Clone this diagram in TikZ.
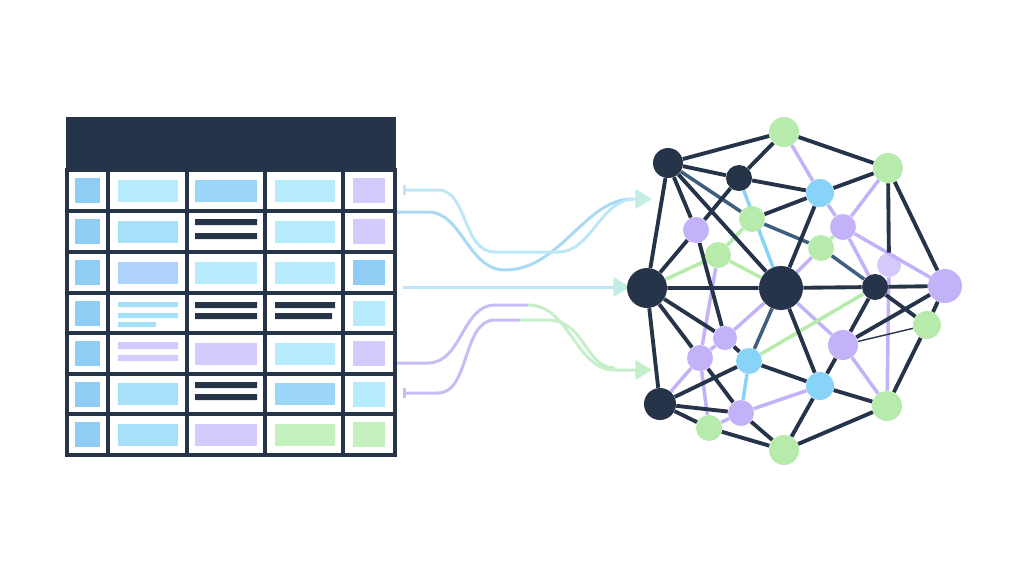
\documentclass[tikz,border=0pt]{standalone}
\usepackage{tikz}
\usetikzlibrary{arrows.meta,backgrounds}
\definecolor{navy}{HTML}{26344A}
\definecolor{skyA}{HTML}{8FCDF5}
\definecolor{cyanA}{HTML}{B5EBFB}
\definecolor{cyanB}{HTML}{A6E1F9}
\definecolor{blueB}{HTML}{9BD6F7}
\definecolor{periA}{HTML}{AFD2FB}
\definecolor{lavA}{HTML}{D4CAFB}
\definecolor{greenA}{HTML}{C4F2BF}
\definecolor{mint}{HTML}{B7EBAB}
\definecolor{lilac}{HTML}{C3B2F7}
\definecolor{sky}{HTML}{88D4F8}
\definecolor{steel}{HTML}{3F5F80}
\definecolor{flowA}{HTML}{BDE6F6}
\definecolor{flowB}{HTML}{A9DAF3}
\definecolor{flowP}{HTML}{C9BCF5}
\definecolor{flowG}{HTML}{C5EFC8}
\definecolor{tipC}{HTML}{C2EEE6}
\tikzset{
    grid/.style={draw=navy,line width=1.8pt},
    flow/.style={line width=1.7pt},
    tip/.style={-{Triangle[length=9.5pt,width=11pt,color=#1]}},
    bartip/.style={{Bar[width=6pt]}-{Triangle[length=9.5pt,width=11pt,color=#1]}},
    dnode/.style={circle,fill=navy,inner sep=0pt,minimum size=#1},
    gnode/.style={circle,fill=mint,inner sep=0pt,minimum size=#1},
    pnode/.style={circle,fill=lilac,inner sep=0pt,minimum size=#1},
    bnode/.style={circle,fill=sky,inner sep=0pt,minimum size=#1},
    dk/.style={draw=navy,line width=2.2pt},
    pl/.style={draw=lilac,line width=2pt},
    gl/.style={draw=mint,line width=2pt},
    bl/.style={draw=sky,line width=2pt},
    sl/.style={draw=steel,line width=2pt},
}
\begin{document}
\begin{tikzpicture}[x=0.02cm,y=-0.02cm]
    \useasboundingbox (0,0) rectangle (1024,576);

    % table
    \fill[navy] (66,117) rectangle (396,170);
    \foreach \x in {108,187,265,343} \draw[grid] (\x,170) -- (\x,455);
    \foreach \y in {211,252,293,333,374,414} \draw[grid] (67,\y) -- (395,\y);
    \draw[grid] (67,170) rectangle (395,455);
    % first column
    \foreach \y in {190.5,231.5,272.5,313,353.5,394,434.5}
        \fill[skyA] (75,\y-12.5) rectangle (100,\y+12.5);
    % row 1
    \fill[cyanA] (118,179.5) rectangle (178,201.5);
    \fill[blueB] (195,179.5) rectangle (257,201.5);
    \fill[cyanA] (275,179.5) rectangle (335,201.5);
    \fill[lavA] (353,178) rectangle (385,203);
    % row 2
    \fill[cyanB] (118,220.5) rectangle (178,242.5);
    \fill[navy] (195,219) rectangle (257,225) (195,233) rectangle (257,239);
    \fill[cyanA] (275,220.5) rectangle (335,242.5);
    \fill[lavA] (353,219) rectangle (385,244);
    % row 3
    \fill[periA] (118,261.5) rectangle (178,283.5);
    \fill[cyanA] (195,261.5) rectangle (257,283.5);
    \fill[cyanA] (275,261.5) rectangle (335,283.5);
    \fill[skyA] (353,260) rectangle (385,285);
    % row 4
    \fill[cyanB] (118,302) rectangle (178,307) (118,313) rectangle (178,318) (118,322) rectangle (156,327);
    \fill[navy] (195,302) rectangle (257,308) (195,313) rectangle (257,319);
    \fill[navy] (275,302) rectangle (335,308) (275,313) rectangle (332,319);
    \fill[cyanA] (353,300.5) rectangle (385,325.5);
    % row 5
    \fill[lavA] (118,342) rectangle (178,349) (118,355) rectangle (178,361);
    \fill[lavA] (195,342.5) rectangle (257,364.5);
    \fill[cyanA] (275,342.5) rectangle (335,364.5);
    \fill[lavA] (353,341) rectangle (385,366);
    % row 6
    \fill[cyanB] (118,383) rectangle (178,405);
    \fill[navy] (195,382) rectangle (257,388) (195,394) rectangle (257,400);
    \fill[blueB] (275,383) rectangle (335,405);
    \fill[cyanA] (353,381.5) rectangle (385,406.5);
    % row 7
    \fill[cyanB] (118,423.5) rectangle (178,445.5);
    \fill[lavA] (195,423.5) rectangle (257,445.5);
    \fill[greenA] (275,423.5) rectangle (335,445.5);
    \fill[greenA] (353,422) rectangle (385,447);

    % flows
    \coordinate (s1) at (403,190);
    \coordinate (s2) at (397,212);
    \coordinate (s3) at (403,287);
    \coordinate (s4) at (397,363);
    \coordinate (s5) at (403,393);
    \coordinate (e1) at (652,199);
    \coordinate (e3) at (630,287);
    \coordinate (e5) at (652,370);
    \draw[flow,flowB] (s2) -- (428,212) .. controls (462,212) and (468,270) .. (505,270)
        .. controls (560,270) and (585,199) .. (632,199);
    \draw[flow,flowA,bartip=tipC] (s1) -- (438,190)
        .. controls (468,190) and (462,252) .. (495,252) -- (558,252)
        .. controls (592,252) and (600,199) .. (635,199) -- (e1);
    \draw[flow,flowA,tip=tipC] (s3) -- (e3);
    \draw[flow,flowP] (s4) -- (428,363) .. controls (462,363) and (462,305) .. (495,305) -- (528,305);
    \draw[flow,flowG,tip=flowG] (528,305)
        .. controls (570,305) and (575,370) .. (615,370) -- (e5);
    \draw[flow,flowP,{Bar[width=6pt]}-] (s5) -- (438,393) .. controls (470,393) and (462,320) .. (495,320) -- (520,320);
    \draw[flow,flowG] (520,320) -- (548,320) .. controls (585,320) and (585,368) .. (615,368);

    % graph nodes
    \node[dnode=0.6cm] (n1) at (668,163) {};
    \node[dnode=0.52cm] (n2) at (739,178) {};
    \node[gnode=0.6cm] (g1) at (784,132) {};
    \node[gnode=0.6cm] (g2) at (888,168) {};
    \node[bnode=0.56cm] (b1) at (820,193) {};
    \node[gnode=0.52cm] (g3) at (752,219) {};
    \node[pnode=0.52cm] (p1) at (696,230) {};
    \node[pnode=0.52cm] (p2) at (843,227) {};
    \node[gnode=0.52cm] (g4) at (718,255) {};
    \node[gnode=0.52cm] (g5) at (821,248) {};
    \node[dnode=0.8cm] (d3) at (647,288) {};
    \node[dnode=0.88cm] (d4) at (781,288) {};
    \node[dnode=0.52cm] (d5) at (875,287) {};
    \node[pnode=0.48cm,fill opacity=0.7] (p3) at (889,265) {};
    \node[pnode=0.68cm] (p4) at (945,286) {};
    \node[gnode=0.56cm] (g6) at (927,325) {};
    \node[pnode=0.48cm] (p5) at (725,338) {};
    \node[pnode=0.52cm] (p6) at (700,358) {};
    \node[bnode=0.52cm] (b2) at (749,361) {};
    \node[pnode=0.6cm] (p7) at (843,345) {};
    \node[bnode=0.56cm] (b3) at (820,386) {};
    \node[dnode=0.64cm] (d6) at (660,404) {};
    \node[pnode=0.52cm] (p8) at (741,413) {};
    \node[gnode=0.52cm] (g7) at (709,428) {};
    \node[gnode=0.6cm] (g8) at (887,406) {};
    \node[gnode=0.6cm] (g9) at (784,450) {};

    % graph edges
    \begin{scope}[on background layer]
        \draw[pl] (g1) -- (b1) (b1) -- (p2) (p2) -- (g2) (p2) -- (d5) (p2) -- (p4);
        \draw[pl] (g5) -- (d4) (d4) -- (p5) (d4) -- (p7) (p5) -- (p6) (g4) -- (p6);
        \draw[pl] (p6) -- (g7) (d6) -- (p6) (p7) -- (g8) (p8) -- (b3) (g7) -- (p8) (p3) -- (g8);
        \draw[gl] (d3) -- (g4) (g4) -- (g3) (g4) -- (d4) (b2) -- (d5) (g5) -- (p2);
        \draw[bl] (n2) -- (d4) (p8) -- (b2);
        \draw[sl] (n1) -- (g3) (g3) -- (g5) (d4) -- (b2) (g5) -- (d5);
        \draw[dk] (n1) -- (g1) (n1) -- (n2) (n1) -- (d3) (n1) -- (p1) (n1) -- (d4);
        \draw[dk] (n2) -- (g1) (n2) -- (b1) (n2) -- (p1) (p1) -- (d3) (p1) -- (p5);
        \draw[dk] (d3) -- (d4) (g3) -- (b1) (b1) -- (d4) (b1) -- (g2) (g1) -- (g2);
        \draw[dk] (g2) -- (p3) (g2) -- (p4) (d4) -- (d5) (d5) -- (p4) (d4) -- (b3);
        \draw[dk] (d5) -- (p7) (d5) -- (g6) (p4) -- (g6) (p4) -- (p7) (g6) -- (g8);
        \draw[dk] (p7) -- (b3) (b3) -- (g8) (b3) -- (g9) (g9) -- (g8) (b3) -- (b2);
        \draw[dk] (p8) -- (g9) (p5) -- (b2) (p6) -- (d3) (d3) -- (p5) (d3) -- (d6);
        \draw[dk] (d6) -- (b2) (d6) -- (p8) (d6) -- (g7) (p6) -- (p8) (g7) -- (g9);
        \draw[navy,line width=0.8pt] (p7) -- (g6);
    \end{scope}
\end{tikzpicture}
\end{document}
